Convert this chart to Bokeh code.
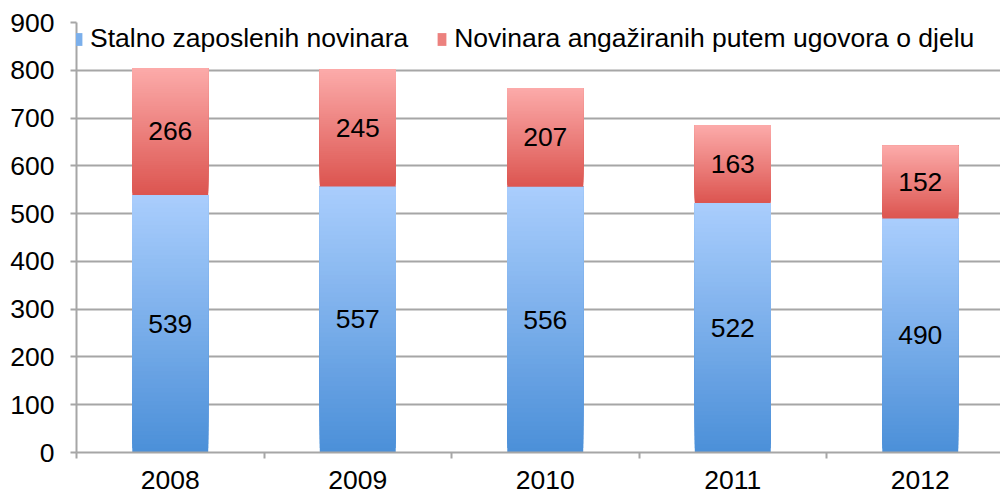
from bokeh.plotting import figure
from bokeh.models import (Range1d, FixedTicker, ColumnDataSource, Legend, LegendItem)
from bokeh.embed import file_html
from bokeh.resources import INLINE
from bokeh.core.properties import value

years = ["2008", "2009", "2010", "2011", "2012"]
stalno = [539, 557, 556, 522, 490]
ugovor = [266, 245, 207, 163, 152]
y_ticks = [0, 100, 200, 300, 400, 500, 600, 700, 800, 900]
series_names = ["Stalno zaposlenih novinara", "Novinara angažiranih putem ugovora o djelu"]

FONT = "Liberation Sans"
FS = "26.5px"
BAR_W = 0.405
N_SLICES = 60

blue_top, blue_bot = (0xAA, 0xCE, 0xFD), (0x4B, 0x8F, 0xD8)
red_top, red_bot = (0xFC, 0xAB, 0xAA), (0xDC, 0x55, 0x50)


def lerp(c1, c2, t):
    return "#%02x%02x%02x" % tuple(int(round(a + (b - a) * t)) for a, b in zip(c1, c2))


p = figure(width=1000, height=493, output_backend="svg", toolbar_location=None,
           x_range=Range1d(-0.5, -0.5 + (1000 - 76) / 187.5), y_range=Range1d(0, 900),
           min_border_left=76, min_border_right=0, min_border_top=22, min_border_bottom=41)
p.outline_line_color = None
p.background_fill_color = "white"


def gradient_source(lows, highs, ctop, cbot):
    L, R, T, B, C = [], [], [], [], []
    for i, (lo, hi) in enumerate(zip(lows, highs)):
        h = hi - lo
        for k in range(N_SLICES):
            frac = (k + 0.5) / N_SLICES  # 0 bottom -> 1 top
            L.append(i - BAR_W / 2)
            R.append(i + BAR_W / 2)
            B.append(lo + h * k / N_SLICES)
            T.append(hi)
            C.append(lerp(cbot, ctop, frac))
    return ColumnDataSource(dict(left=L, right=R, top=T, bottom=B, color=C))


tops = [s + u for s, u in zip(stalno, ugovor)]
src_b = gradient_source([0] * len(stalno), stalno, blue_top, blue_bot)
src_r = gradient_source(stalno, tops, red_top, red_bot)
rb = p.quad(left="left", right="right", top="top", bottom="bottom", fill_color="color",
            line_color=None, source=src_b)
rr = p.quad(left="left", right="right", top="top", bottom="bottom", fill_color="color",
            line_color=None, source=src_r)

# data labels
xs = list(range(len(years)))
lab_x = xs + xs
lab_y = [s / 2 for s in stalno] + [s + u / 2 for s, u in zip(stalno, ugovor)]
lab_t = [str(v) for v in stalno] + [str(v) for v in ugovor]
p.text(x=lab_x, y=lab_y, text=lab_t, text_align="center", text_baseline="middle",
       text_font=value(FONT), text_font_size=FS, text_color="black")

legend = Legend(items=[LegendItem(label=series_names[0], renderers=[rb], index=N_SLICES // 2),
                       LegendItem(label=series_names[1], renderers=[rr], index=N_SLICES // 2)],
                orientation="horizontal", location=(-4, 398),
                glyph_width=11, glyph_height=16, label_standoff=7, spacing=28,
                padding=0, margin=0, border_line_color=None, background_fill_alpha=0,
                label_text_font=FONT, label_text_font_size=FS, label_text_color="black",
                label_height=28)
p.add_layout(legend, "center")

GRID = "#a6a6a6"
p.xgrid.visible = False
p.ygrid.ticker = FixedTicker(ticks=y_ticks)
p.ygrid.grid_line_color = GRID
p.ygrid.grid_line_width = 2

p.yaxis.ticker = FixedTicker(ticks=y_ticks)
p.yaxis.axis_line_color = GRID
p.yaxis.axis_line_width = 2
p.yaxis.major_tick_line_color = GRID
p.yaxis.major_tick_line_width = 2
p.yaxis.major_tick_out = 6
p.yaxis.major_tick_in = 0
p.yaxis.minor_tick_line_color = None
p.yaxis.major_label_standoff = 16
p.yaxis.major_label_text_font = FONT
p.yaxis.major_label_text_font_size = FS
p.yaxis.major_label_text_color = "black"

p.xaxis.ticker = FixedTicker(ticks=xs, minor_ticks=[i - 0.5 for i in range(len(years) + 1)])
p.xaxis.major_label_overrides = {i: y for i, y in enumerate(years)}
p.xaxis.axis_line_color = GRID
p.xaxis.axis_line_width = 2
p.xaxis.major_tick_line_color = None
p.xaxis.major_tick_out = 0
p.xaxis.major_tick_in = 0
p.xaxis.minor_tick_line_color = GRID
p.xaxis.minor_tick_line_width = 2
p.xaxis.minor_tick_out = 6
p.xaxis.minor_tick_in = 0
p.xaxis.major_label_standoff = 12
p.xaxis.major_label_text_font = FONT
p.xaxis.major_label_text_font_size = FS
p.xaxis.major_label_text_color = "black"

open("out.html", "w").write(file_html(p, INLINE))
